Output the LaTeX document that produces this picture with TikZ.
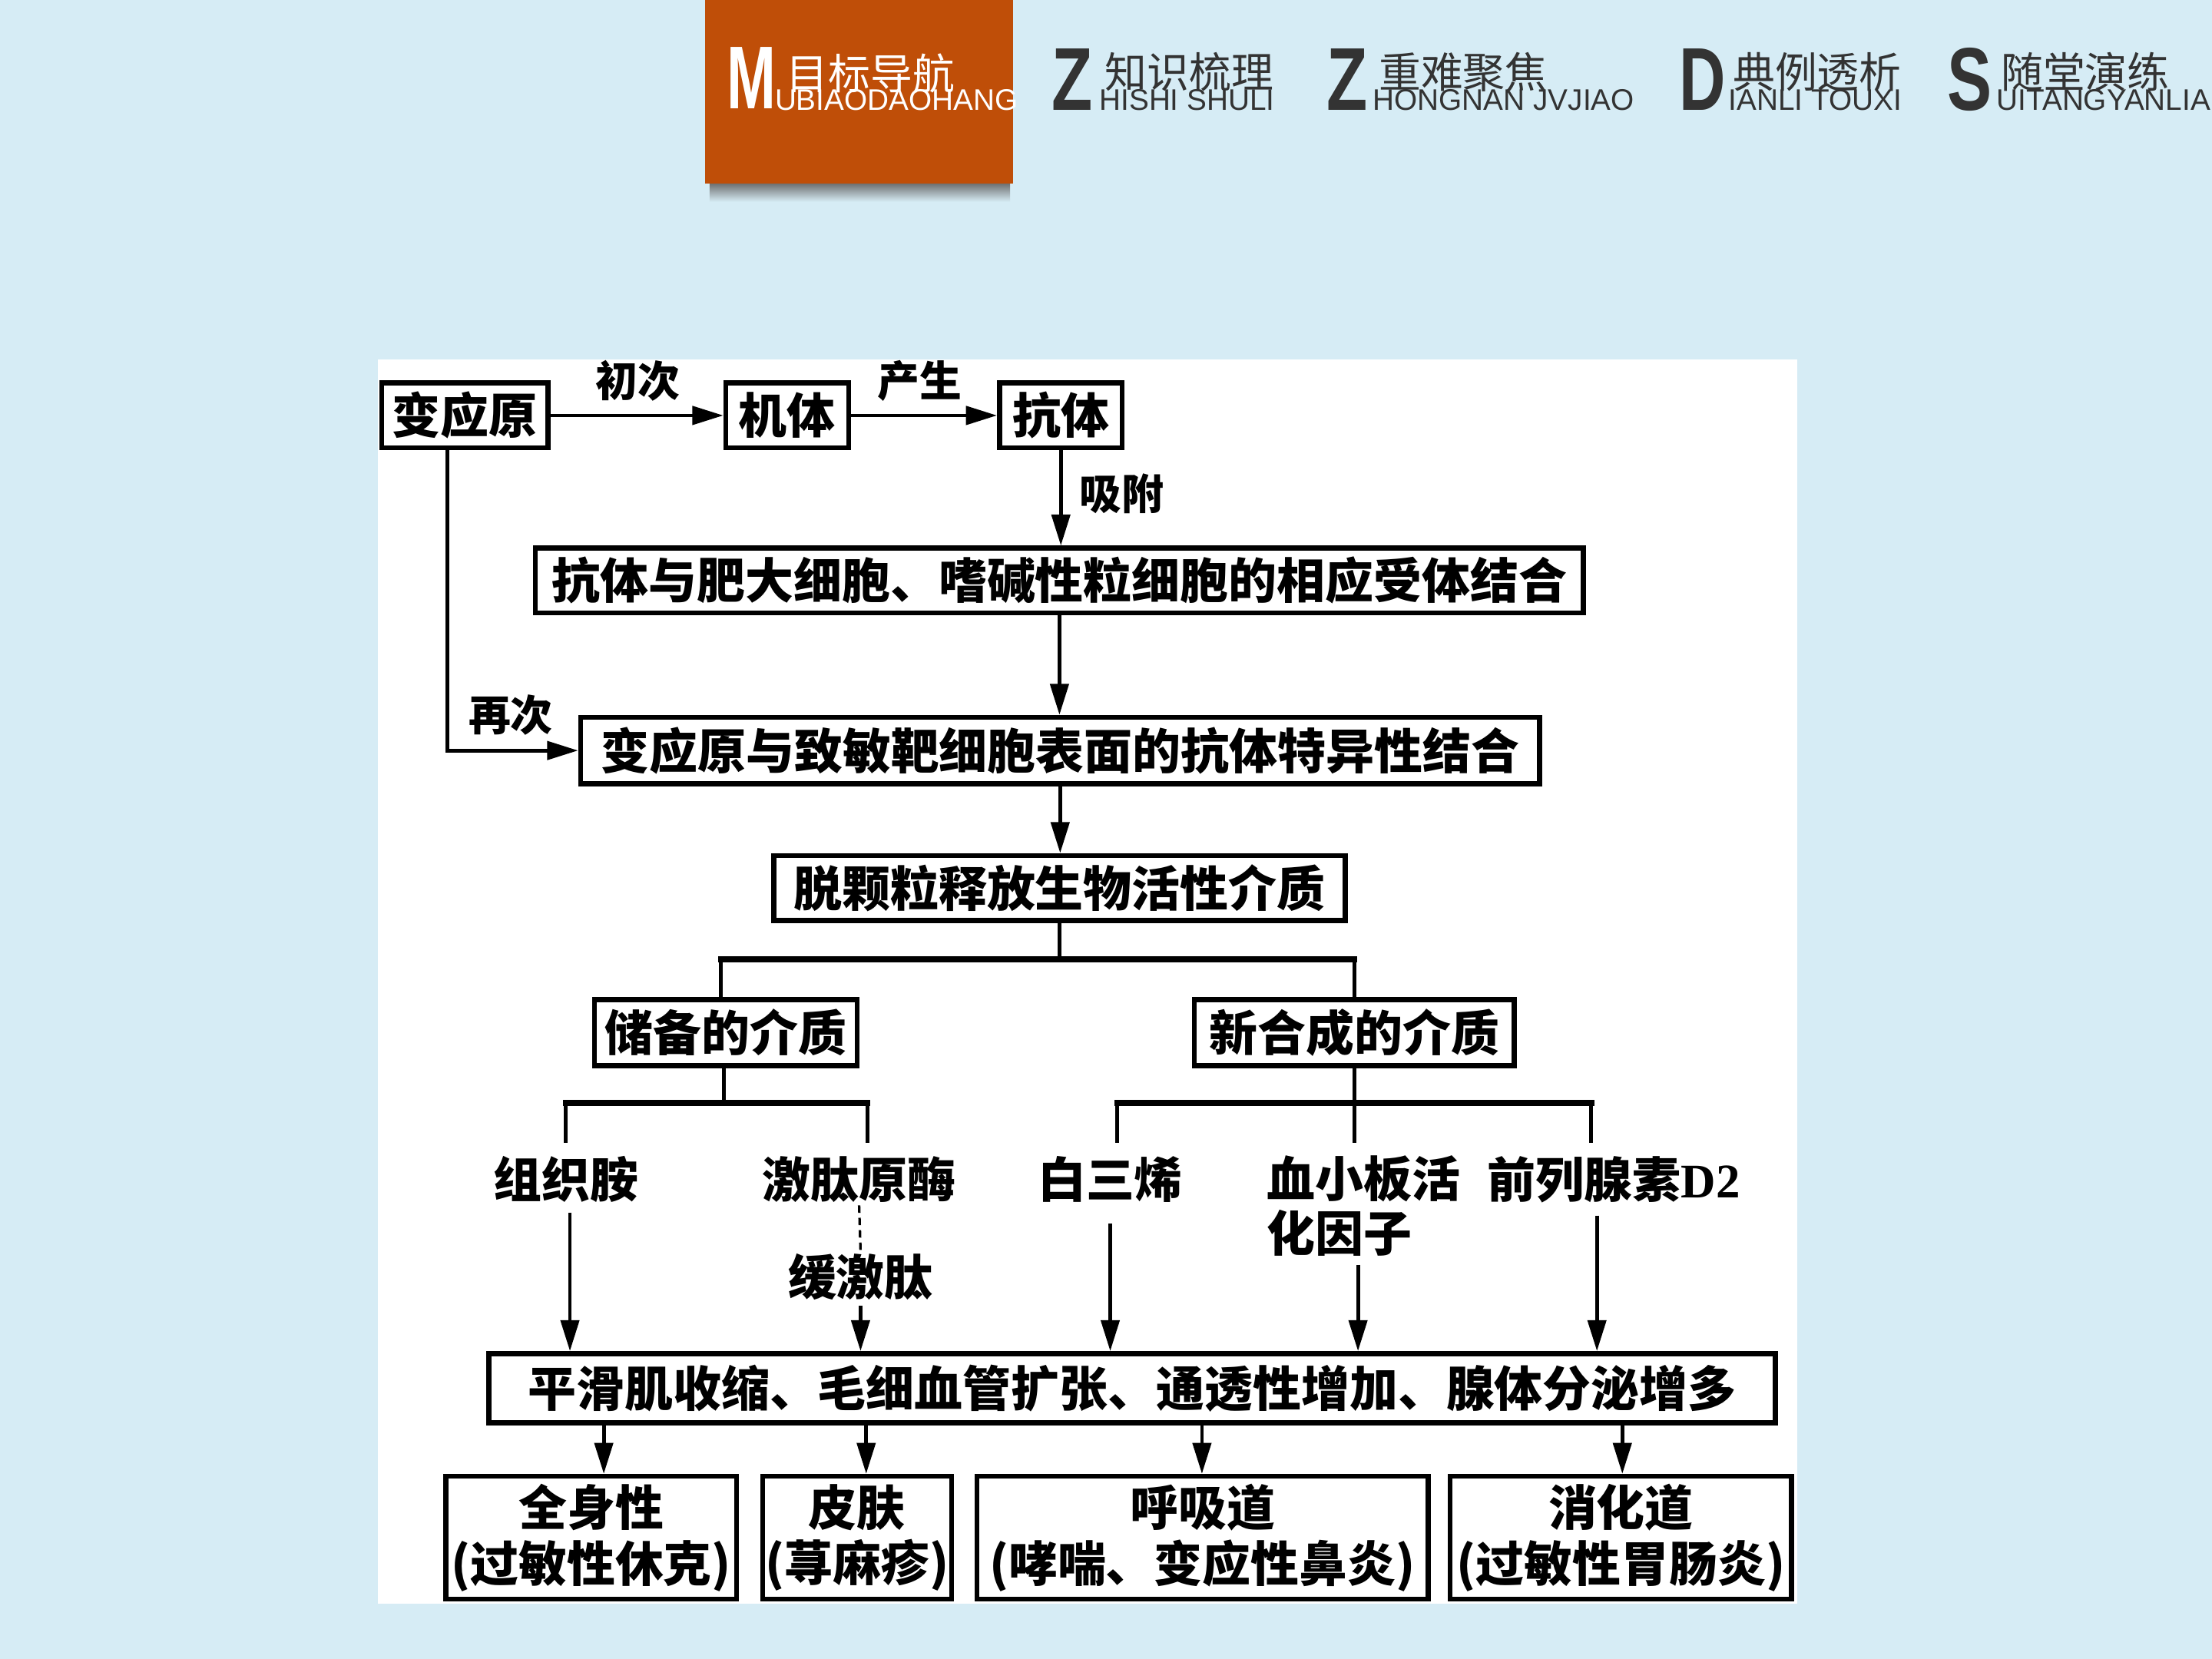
\documentclass[tikz,border=0pt]{standalone}
\usepackage{fontspec}
\newfontfamily\cjk{Noto Sans CJK SC}
\newfontfamily\latsans{Liberation Sans}
\newfontfamily\latserif{Liberation Serif}
\usetikzlibrary{arrows.meta,calc}
\definecolor{bgblue}{RGB}{214,236,245}
\definecolor{taborange}{RGB}{191,78,8}
\definecolor{tabgray}{RGB}{51,51,51}
\begin{document}
\begin{tikzpicture}[x=0.02cm,y=-0.02cm,
  box/.style={draw=black, line width=2pt, fill=white, inner sep=0pt,
    font=\cjk\bfseries\fontsize{19.5}{22.5}\selectfont},
  lbl/.style={inner sep=1pt, font=\cjk\bfseries\fontsize{19.5}{22}\selectfont},
  smalllbl/.style={inner sep=1pt, font=\cjk\bfseries\fontsize{17}{20}\selectfont},
  conn/.style={line width=1.5pt},
  bar/.style={line width=2.4pt, line cap=rect},
  tip/.style={-{Triangle[length=0.44cm,width=0.26cm]}},
  arr/.style={line width=1.5pt, tip},
  bigletter/.style={anchor=base west, inner sep=0pt, font=\latsans\bfseries\fontsize{36}{36}\selectfont},
  tabcn/.style={anchor=west, inner sep=0pt, font=\cjk\fontsize{17}{17}\selectfont},
  tabpy/.style={anchor=base west, inner sep=0pt, font=\latsans\fontsize{12}{12}\selectfont},
]
\useasboundingbox (0,0) rectangle (1568,1176);
\fill[bgblue] (0,0) rectangle (1568,1176);
\fill[white] (268,255) rectangle (1274,1137);

% header
\shade[top color=black!60, bottom color=bgblue] (503,129) rectangle (716,143);
\fill[taborange] (500,0) rectangle (718,130);
\node[bigletter, text=white] (tabMl) at (515,77) {\scalebox{0.66}[1]{M}};
\node[tabcn, text=white] (tabMc) at (557,52) {目标导航};
\node[tabpy, text=white] (tabMp) at (549,78) {UBIAODAOHANG};

\node[bigletter, text=tabgray] (tabZl) at (745,78) {\scalebox{0.75}[1]{Z}};
\node[tabcn, text=tabgray] (tabZc) at (783,51) {知识梳理};
\node[tabpy, text=tabgray] (tabZp) at (779,78) {HISHI SHULI};

\node[bigletter, text=tabgray] (tabYl) at (940,78) {\scalebox{0.75}[1]{Z}};
\node[tabcn, text=tabgray] (tabYc) at (977,51) {重难聚焦};
\node[tabpy, text=tabgray] (tabYp) at (973,78) {HONGNAN JVJIAO};

\node[bigletter, text=tabgray] (tabDl) at (1190,78) {\scalebox{0.72}[1]{D}};
\node[tabcn, text=tabgray] (tabDc) at (1228,51) {典例透析};
\node[tabpy, text=tabgray] (tabDp) at (1225,78) {IANLI TOUXI};

\node[bigletter, text=tabgray] (tabSl) at (1380,78) {\scalebox{0.75}[1]{S}};
\node[tabcn, text=tabgray] (tabSc) at (1418,51) {随堂演练};
\node[tabpy, text=tabgray] (tabSp) at (1415,78) {UITANGYANLIAN};

% boxes
\node[box, minimum width=2.36cm, minimum height=0.92cm] (byy) at (329.5,294.5) {变应原};
\node[box, minimum width=1.74cm, minimum height=0.92cm] (jt) at (558,294.5) {机体};
\node[box, minimum width=1.74cm, minimum height=0.92cm] (kt) at (752,294.5) {抗体};
\node[box, minimum width=14.86cm, minimum height=0.92cm] (b2) at (751,411.5) {抗体与肥大细胞、嗜碱性粒细胞的相应受体结合};
\node[box, minimum width=13.6cm, minimum height=0.94cm] (b3) at (751.5,532) {变应原与致敏靶细胞表面的抗体特异性结合};
\node[box, minimum width=8.1cm, minimum height=0.92cm] (b4) at (751,629.5) {脱颗粒释放生物活性介质};
\node[box, minimum width=3.72cm, minimum height=0.94cm] (cb) at (514.5,732) {储备的介质};
\node[box, minimum width=4.54cm, minimum height=0.94cm] (xh) at (960,732) {新合成的介质};
\node[box, minimum width=18.24cm, minimum height=0.98cm] (b5) at (802.5,984) {平滑肌收缩、毛细血管扩张、通透性增加、腺体分泌增多};

\node[box, align=center, minimum width=4.12cm, minimum height=1.74cm] (qs) at (419,1090) {全身性\\(过敏性休克)};
\node[box, align=center, minimum width=2.68cm, minimum height=1.74cm] (pf) at (607.5,1090) {皮肤\\(荨麻疹)};
\node[box, align=center, minimum width=6.4cm, minimum height=1.74cm] (hx) at (852.5,1090) {呼吸道\\(哮喘、变应性鼻炎)};
\node[box, align=center, minimum width=4.84cm, minimum height=1.74cm] (xhd) at (1149,1090) {消化道\\(过敏性胃肠炎)};

% plain labels
\node[smalllbl] (lcc) at (452,270) {初次};
\node[smalllbl] (lcs) at (652,270) {产生};
\node[smalllbl, anchor=west] (lxf) at (763,350) {吸附};
\node[smalllbl] (lzc) at (362,507) {再次};

\node[lbl] (zz) at (401,836) {组织胺};
\node[lbl] (jtym) at (609,836) {激肽原酶};
\node[lbl] (hjt) at (610,905) {缓激肽};
\node[lbl] (bsx) at (787,836) {白三烯};
\node[lbl, align=left, anchor=north west] (xxb) at (896,817) {血小板活\\化因子};
\node[lbl] (ql) at (1144,836) {前列腺素{\latserif\bfseries D2}};

% top chain
\draw[arr] (byy) -- (jt);
\draw[arr] (jt) -- (kt);
\draw[arr] (kt.south) -- (kt.south |- b2.north);
\draw[arr] (b2.south) -- (b2.south |- b3.north);
\coordinate (zcstart) at ($(byy.south)+(-12.5,0)$);
\draw[arr] (zcstart) |- (b3.west);
\draw[arr] (b3.south) -- (b3.south |- b4.north);

% first split
\coordinate (j1) at (753,680);
\coordinate (j1l) at (511,680);
\coordinate (j1r) at (960,680);
\draw[conn] (b4.south) -- (b4.south |- j1);
\draw[bar] (j1l) -- (j1r);
\draw[conn] (j1l) -- (j1l |- cb.north);
\draw[conn] (j1r) -- (j1r |- xh.north);

% second level left
\coordinate (j2) at (513,782);
\coordinate (a1) at (401,782);
\coordinate (a2) at (615,782);
\coordinate (a1e) at (401,810);
\coordinate (a2e) at (615,810);
\draw[conn] (j2 |- cb.south) -- (j2);
\draw[bar] (a1) -- (a2);
\draw[conn] (a1) -- (a1e);
\draw[conn] (a2) -- (a2e);

% second level right
\coordinate (j3) at (960,782);
\coordinate (c1) at (792,782);
\coordinate (c3) at (1128,782);
\coordinate (c1e) at (792,810);
\coordinate (c2e) at (960,810);
\coordinate (c3e) at (1128,810);
\draw[conn] (xh.south) -- (j3);
\draw[bar] (c1) -- (c3);
\draw[conn] (c1) -- (c1e);
\draw[conn] (j3) -- (c2e);
\draw[conn] (c3) -- (c3e);

% dashed
\draw[line width=1pt, dash pattern=on 3pt off 2pt] (jtym.south) -- (hjt.north);

% arrows to b5
\coordinate (s1) at ($(zz.south)+(3,5)$);
\coordinate (s2) at ($(hjt.south)+(0,2)$);
\coordinate (s3) at ($(bsx.south)+(0,13)$);
\coordinate (s4) at ($(xxb.south)+(-4,4)$);
\coordinate (s5) at ($(ql.south)+(-12,7)$);
\draw[arr] (s1) -- (s1 |- b5.north);
\draw[arr] (s2) -- (s2 |- b5.north);
\draw[arr] (s3) -- (s3 |- b5.north);
\draw[arr] (s4) -- (s4 |- b5.north);
\draw[arr] (s5) -- (s5 |- b5.north);

% arrows to bottom boxes
\coordinate (t1) at ($(qs.north)+(9,0)$);
\coordinate (t2) at ($(pf.north)+(6.5,0)$);
\coordinate (t3) at ($(hx.north)+(-0.5,0)$);
\coordinate (t4) at ($(xhd.north)+(1,0)$);
\draw[arr] (t1 |- b5.south) -- (t1);
\draw[arr] (t2 |- b5.south) -- (t2);
\draw[arr] (t3 |- b5.south) -- (t3);
\draw[arr] (t4 |- b5.south) -- (t4);
\end{tikzpicture}
\end{document}
